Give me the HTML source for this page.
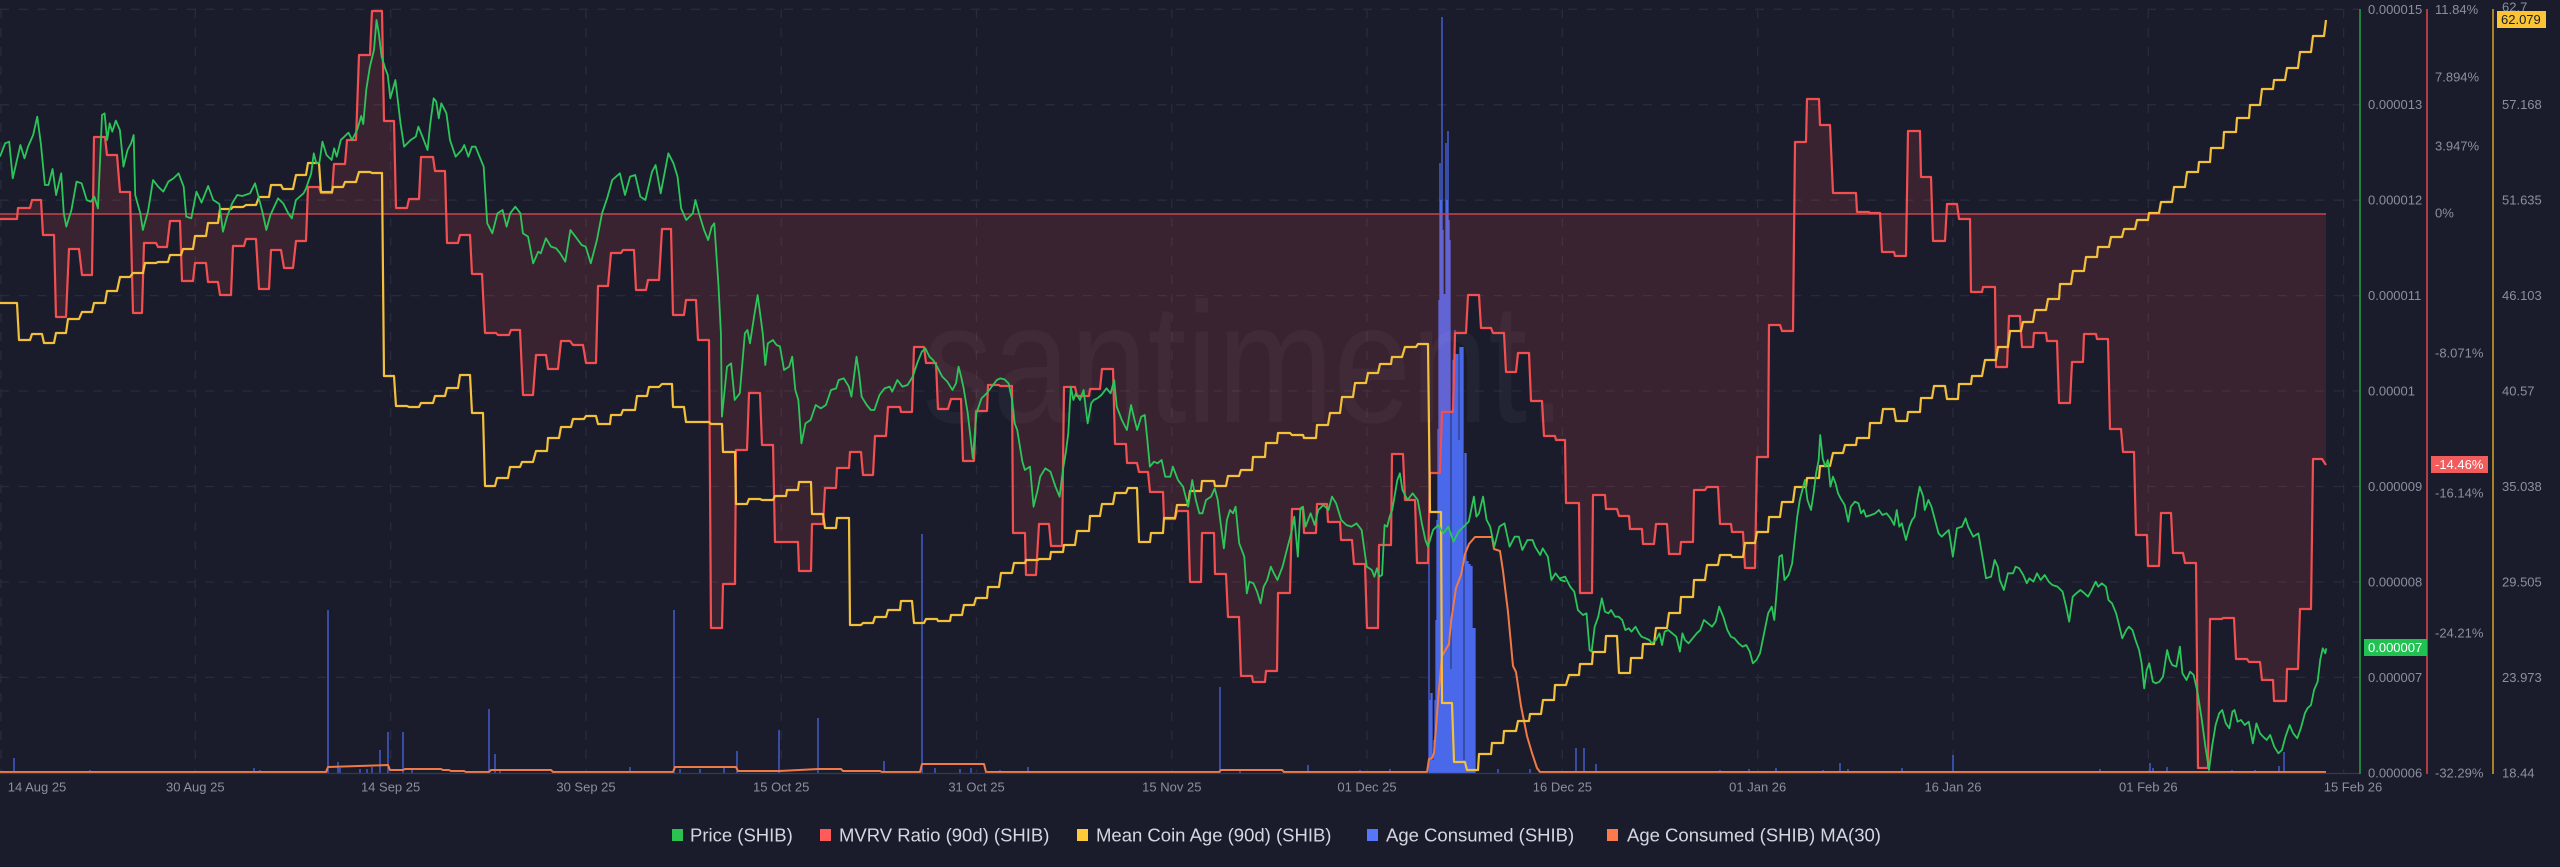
<!DOCTYPE html>
<html><head><meta charset="utf-8"><style>
html,body{margin:0;padding:0;background:#1a1c2c;}
body{width:2560px;height:867px;overflow:hidden;}
svg{display:block;font-family:"Liberation Sans",sans-serif;}
</style></head><body>
<svg width="2560" height="867" viewBox="0 0 2560 867" xmlns="http://www.w3.org/2000/svg">
<rect x="0" y="0" width="2560" height="867" fill="#1a1c2c"/>
<!-- grid -->
<g stroke="#272b3c" stroke-width="1.3" stroke-dasharray="9 9.67" fill="none">
<line x1="0" y1="9.3" x2="2360" y2="9.3"/>
<line x1="0" y1="104.7" x2="2360" y2="104.7"/>
<line x1="0" y1="200.2" x2="2360" y2="200.2"/>
<line x1="0" y1="295.6" x2="2360" y2="295.6"/>
<line x1="0" y1="391" x2="2360" y2="391"/>
<line x1="0" y1="486.5" x2="2360" y2="486.5"/>
<line x1="0" y1="582" x2="2360" y2="582"/>
<line x1="0" y1="677.4" x2="2360" y2="677.4"/>
</g>
<g stroke="#272b3c" stroke-width="1.3" stroke-dasharray="9 10" fill="none">
<line x1="1" y1="9" x2="1" y2="773"/>
<line x1="195.3" y1="9" x2="195.3" y2="773"/>
<line x1="390.6" y1="9" x2="390.6" y2="773"/>
<line x1="586" y1="9" x2="586" y2="773"/>
<line x1="781.2" y1="9" x2="781.2" y2="773"/>
<line x1="976.5" y1="9" x2="976.5" y2="773"/>
<line x1="1171.8" y1="9" x2="1171.8" y2="773"/>
<line x1="1367" y1="9" x2="1367" y2="773"/>
<line x1="1562.4" y1="9" x2="1562.4" y2="773"/>
<line x1="1757.7" y1="9" x2="1757.7" y2="773"/>
<line x1="1953" y1="9" x2="1953" y2="773"/>
<line x1="2148.3" y1="9" x2="2148.3" y2="773"/>
<line x1="2343.6" y1="9" x2="2343.6" y2="773"/>
</g>
<!-- Age consumed bars -->
<g stroke="#4d6cf2" stroke-width="1.2">
<line x1="14" y1="773" x2="14" y2="758"/><line x1="90" y1="773" x2="90" y2="770"/><line x1="254" y1="773" x2="254" y2="768"/><line x1="260" y1="773" x2="260" y2="770"/>
<line x1="328" y1="773" x2="328" y2="610"/><line x1="338" y1="773" x2="338" y2="762"/><line x1="367" y1="773" x2="367" y2="769"/><line x1="380" y1="773" x2="380" y2="750"/>
<line x1="388" y1="773" x2="388" y2="732"/><line x1="403" y1="773" x2="403" y2="732"/><line x1="489" y1="773" x2="489" y2="709"/><line x1="495" y1="773" x2="495" y2="754"/>
<line x1="630" y1="773" x2="630" y2="767"/><line x1="674" y1="773" x2="674" y2="610"/><line x1="724" y1="773" x2="724" y2="768"/><line x1="737" y1="773" x2="737" y2="751"/>
<line x1="779" y1="773" x2="779" y2="730"/><line x1="818" y1="773" x2="818" y2="718"/><line x1="884" y1="773" x2="884" y2="761"/><line x1="922" y1="773" x2="922" y2="534"/>
<line x1="935" y1="773" x2="935" y2="768"/><line x1="971" y1="773" x2="971" y2="768"/><line x1="1028" y1="773" x2="1028" y2="767"/><line x1="1220" y1="773" x2="1220" y2="687"/>
<line x1="1308" y1="773" x2="1308" y2="765"/><line x1="1390" y1="773" x2="1390" y2="769"/><line x1="1576" y1="773" x2="1576" y2="748"/><line x1="1584" y1="773" x2="1584" y2="748"/>
<line x1="1596" y1="773" x2="1596" y2="764"/><line x1="1720" y1="773" x2="1720" y2="770"/><line x1="1749" y1="773" x2="1749" y2="769"/><line x1="1776" y1="773" x2="1776" y2="768"/>
<line x1="1823" y1="773" x2="1823" y2="770"/><line x1="1840" y1="773" x2="1840" y2="763"/><line x1="1848" y1="773" x2="1848" y2="769"/><line x1="1902" y1="773" x2="1902" y2="768"/>
<line x1="1953" y1="773" x2="1953" y2="755"/><line x1="2029" y1="773" x2="2029" y2="771"/><line x1="2100" y1="773" x2="2100" y2="769"/><line x1="2150" y1="773" x2="2150" y2="763"/>
<line x1="2153" y1="773" x2="2153" y2="768"/><line x1="2167" y1="773" x2="2167" y2="767"/><line x1="2232" y1="773" x2="2232" y2="770"/><line x1="2255" y1="773" x2="2255" y2="770"/>
<line x1="2279" y1="773" x2="2279" y2="766"/><line x1="2284" y1="773" x2="2284" y2="752"/>
<line x1="340" y1="773" x2="340" y2="768"/><line x1="360" y1="773" x2="360" y2="769"/><line x1="372" y1="773" x2="372" y2="767"/><line x1="412" y1="773" x2="412" y2="769"/>
<line x1="500" y1="773" x2="500" y2="769"/><line x1="680" y1="773" x2="680" y2="769"/><line x1="700" y1="773" x2="700" y2="769"/><line x1="960" y1="773" x2="960" y2="769"/>
<line x1="1000" y1="773" x2="1000" y2="770"/><line x1="1240" y1="773" x2="1240" y2="769"/><line x1="1360" y1="773" x2="1360" y2="770"/>
<line x1="1498" y1="773" x2="1498" y2="769"/><line x1="1530" y1="773" x2="1530" y2="769"/>
</g>
<!-- cluster -->
<g stroke="#4a68ea" stroke-width="1.3">
<line x1="1429" y1="773" x2="1429" y2="453"/><line x1="1430" y1="773" x2="1430" y2="700"/><line x1="1431" y1="773" x2="1431" y2="693"/><line x1="1432" y1="773" x2="1432" y2="693"/>
<line x1="1433" y1="773" x2="1433" y2="760"/><line x1="1434" y1="773" x2="1434" y2="740"/><line x1="1435" y1="773" x2="1435" y2="700"/><line x1="1436" y1="773" x2="1436" y2="620"/>
<line x1="1437" y1="773" x2="1437" y2="520"/><line x1="1438" y1="773" x2="1438" y2="429"/><line x1="1439" y1="773" x2="1439" y2="300"/><line x1="1440" y1="773" x2="1440" y2="163"/>
<line x1="1441" y1="773" x2="1441" y2="200"/><line x1="1442" y1="773" x2="1442" y2="17"/><line x1="1443" y1="773" x2="1443" y2="230"/><line x1="1444" y1="773" x2="1444" y2="294"/>
<line x1="1445" y1="773" x2="1445" y2="294"/><line x1="1446" y1="773" x2="1446" y2="143"/><line x1="1447" y1="773" x2="1447" y2="200"/><line x1="1448" y1="773" x2="1448" y2="131"/>
<line x1="1449" y1="773" x2="1449" y2="220"/><line x1="1450" y1="773" x2="1450" y2="240"/><line x1="1451" y1="773" x2="1451" y2="669"/><line x1="1452" y1="773" x2="1452" y2="410"/>
<line x1="1453" y1="773" x2="1453" y2="360"/><line x1="1454" y1="773" x2="1454" y2="362"/><line x1="1455" y1="773" x2="1455" y2="330"/><line x1="1456" y1="773" x2="1456" y2="354"/>
<line x1="1457" y1="773" x2="1457" y2="354"/><line x1="1458" y1="773" x2="1458" y2="354"/><line x1="1459" y1="773" x2="1459" y2="440"/><line x1="1460" y1="773" x2="1460" y2="347"/>
<line x1="1461" y1="773" x2="1461" y2="347"/><line x1="1462" y1="773" x2="1462" y2="347"/><line x1="1463" y1="773" x2="1463" y2="347"/><line x1="1464" y1="773" x2="1464" y2="760"/>
<line x1="1465" y1="773" x2="1465" y2="453"/><line x1="1466" y1="773" x2="1466" y2="453"/><line x1="1467" y1="773" x2="1467" y2="561"/><line x1="1468" y1="773" x2="1468" y2="561"/>
<line x1="1469" y1="773" x2="1469" y2="564"/><line x1="1470" y1="773" x2="1470" y2="564"/><line x1="1471" y1="773" x2="1471" y2="566"/><line x1="1472" y1="773" x2="1472" y2="566"/>
<line x1="1473" y1="773" x2="1473" y2="628"/><line x1="1474" y1="773" x2="1474" y2="628"/><line x1="1475" y1="773" x2="1475" y2="628"/>
</g>
<!-- MVRV fill -->
<polygon fill="rgba(240,80,80,0.15)" points="0,214 0,219 17,219 18,208 30,208 32,200 41,200 43,235 54,235 56,317 66,317 69,249 79,249 82,275 92,275 94,137 105,137 107,155 117,155 120,192 130,192 133,313 142,313 144,243 156,243 158,247 167,247 170,221 180,221 182,281 193,281 195,263 206,263 208,282 218,282 220,295 231,295 233,246 244,246 246,239 256,239 259,289 269,289 271,250 281,250 284,268 293,268 296,241 306,241 308,187 319,187 321,193 332,193 334,164 345,164 347,140 356,140 359,55 370,55 372,11 382,11 384,121 394,121 396,208 407,208 409,199 419,199 421,157 433,157 435,171 445,171 447,243 458,243 460,235 470,235 472,274 482,274 485,333 496,333 498,335 509,335 511,330 520,330 523,395 533,395 536,355 546,355 548,369 558,369 561,341 570,341 573,345 583,345 586,363 596,363 598,286 608,286 611,253 621,253 623,250 634,250 636,290 646,290 648,280 659,280 662,229 671,229 673,315 684,315 686,300 696,300 698,340 709,340 711,628 722,628 723,584 735,584 736,450 747,450 749,393 760,393 762,445 773,445 775,542 798,542 799,571 811,571 812,524 823,524 825,488 836,488 837,468 849,468 850,452 861,452 863,475 873,475 875,436 886,436 888,407 900,407 901,412 912,412 914,347 924,347 926,363 936,363 938,409 948,409 951,399 961,399 963,461 974,461 976,411 987,411 988,385 999,385 1000,386 1012,386 1013,533 1025,533 1026,575 1036,575 1039,524 1049,524 1051,546 1062,546 1064,387 1075,387 1077,396 1089,396 1090,389 1100,389 1102,369 1113,369 1115,444 1126,444 1127,463 1137,463 1139,472 1148,472 1150,492 1163,492 1164,519 1175,519 1177,511 1188,511 1190,582 1201,582 1202,533 1214,533 1215,574 1226,574 1228,617 1239,617 1241,676 1252,676 1253,682 1265,682 1266,671 1277,671 1278,593 1290,593 1292,509 1303,509 1304,533 1316,533 1317,504 1327,504 1328,522 1340,522 1341,540 1352,540 1354,564 1365,564 1367,628 1378,628 1379,545 1391,545 1392,454 1403,454 1405,500 1415,500 1417,563 1428,563 1430,473 1440,473 1442,412 1453,412 1455,333 1466,333 1468,295 1479,295 1481,328 1491,328 1493,333 1504,333 1506,372 1516,372 1518,353 1529,353 1531,401 1542,401 1544,436 1555,436 1556,440 1565,440 1566,503 1579,503 1580,593 1592,593 1593,495 1605,495 1606,509 1617,509 1619,516 1629,516 1630,529 1642,529 1643,544 1654,544 1656,524 1667,524 1669,554 1680,554 1681,542 1693,542 1694,490 1705,490 1707,487 1718,487 1720,524 1731,524 1732,532 1743,532 1745,568 1755,568 1757,457 1768,457 1769,325 1780,325 1782,331 1793,331 1795,142 1806,142 1807,99 1819,99 1820,125 1830,125 1833,193 1856,193 1857,212 1869,212 1870,213 1880,213 1882,252 1894,252 1895,256 1906,256 1908,131 1920,131 1921,177 1931,177 1933,241 1945,241 1947,204 1957,204 1959,219 1970,219 1971,292 1982,292 1983,287 1995,287 1996,367 2007,367 2009,316 2020,316 2022,347 2033,347 2034,333 2046,333 2047,341 2057,341 2059,403 2070,403 2072,362 2083,362 2084,334 2096,334 2097,339 2108,339 2110,429 2121,429 2123,452 2134,452 2136,535 2147,535 2148,566 2159,566 2161,513 2171,513 2173,553 2183,553 2185,563 2196,563 2198,768 2208,768 2210,619 2222,619 2223,618 2234,618 2236,659 2247,659 2249,662 2260,662 2262,680 2273,680 2274,701 2286,701 2287,669 2298,669 2300,609 2311,609 2313,459 2322,459 2326,465 2326,214"/>
<!-- watermark -->
<text transform="translate(923,422) scale(0.815,1)" font-size="171" fill="rgba(255,255,255,0.035)">santiment.</text>
<!-- zero line -->
<line x1="0" y1="214" x2="2326" y2="214" stroke="#c4464f" stroke-width="1.4"/>
<!-- MA30 -->
<polyline fill="none" stroke="#f07a45" stroke-width="2" stroke-linejoin="round" points="0,772 326,772 328,767 388,765 390,770 403,770 405,769 441,769 443,770 449,770 451,771 464,771 466,772 489,772 491,770 551,770 553,772 673,772 675,767 736,767 738,771 780,771 818,769 841,769 843,771 880,771 882,772 920,772 922,764 984,764 986,772 1219,772 1221,770 1282,770 1284,772 1427,772 1429,759 1432,758 1434,753 1439,689 1442,656 1449,644 1451,622 1456,588 1461,575 1465,554 1469,544 1475,537 1492,537 1494,549 1500,551 1503,571 1508,612 1513,666 1516,672 1521,706 1527,736 1532,753 1537,768 1540,772 2326,772"/>
<!-- MVRV line -->
<polyline fill="none" stroke="#f24f50" stroke-width="2.2" stroke-linejoin="round" points="0,219 17,219 18,208 30,208 32,200 41,200 43,235 54,235 56,317 66,317 69,249 79,249 82,275 92,275 94,137 105,137 107,155 117,155 120,192 130,192 133,313 142,313 144,243 156,243 158,247 167,247 170,221 180,221 182,281 193,281 195,263 206,263 208,282 218,282 220,295 231,295 233,246 244,246 246,239 256,239 259,289 269,289 271,250 281,250 284,268 293,268 296,241 306,241 308,187 319,187 321,193 332,193 334,164 345,164 347,140 356,140 359,55 370,55 372,11 382,11 384,121 394,121 396,208 407,208 409,199 419,199 421,157 433,157 435,171 445,171 447,243 458,243 460,235 470,235 472,274 482,274 485,333 496,333 498,335 509,335 511,330 520,330 523,395 533,395 536,355 546,355 548,369 558,369 561,341 570,341 573,345 583,345 586,363 596,363 598,286 608,286 611,253 621,253 623,250 634,250 636,290 646,290 648,280 659,280 662,229 671,229 673,315 684,315 686,300 696,300 698,340 709,340 711,628 722,628 723,584 735,584 736,450 747,450 749,393 760,393 762,445 773,445 775,542 798,542 799,571 811,571 812,524 823,524 825,488 836,488 837,468 849,468 850,452 861,452 863,475 873,475 875,436 886,436 888,407 900,407 901,412 912,412 914,347 924,347 926,363 936,363 938,409 948,409 951,399 961,399 963,461 974,461 976,411 987,411 988,385 999,385 1000,386 1012,386 1013,533 1025,533 1026,575 1036,575 1039,524 1049,524 1051,546 1062,546 1064,387 1075,387 1077,396 1089,396 1090,389 1100,389 1102,369 1113,369 1115,444 1126,444 1127,463 1137,463 1139,472 1148,472 1150,492 1163,492 1164,519 1175,519 1177,511 1188,511 1190,582 1201,582 1202,533 1214,533 1215,574 1226,574 1228,617 1239,617 1241,676 1252,676 1253,682 1265,682 1266,671 1277,671 1278,593 1290,593 1292,509 1303,509 1304,533 1316,533 1317,504 1327,504 1328,522 1340,522 1341,540 1352,540 1354,564 1365,564 1367,628 1378,628 1379,545 1391,545 1392,454 1403,454 1405,500 1415,500 1417,563 1428,563 1430,473 1440,473 1442,412 1453,412 1455,333 1466,333 1468,295 1479,295 1481,328 1491,328 1493,333 1504,333 1506,372 1516,372 1518,353 1529,353 1531,401 1542,401 1544,436 1555,436 1556,440 1565,440 1566,503 1579,503 1580,593 1592,593 1593,495 1605,495 1606,509 1617,509 1619,516 1629,516 1630,529 1642,529 1643,544 1654,544 1656,524 1667,524 1669,554 1680,554 1681,542 1693,542 1694,490 1705,490 1707,487 1718,487 1720,524 1731,524 1732,532 1743,532 1745,568 1755,568 1757,457 1768,457 1769,325 1780,325 1782,331 1793,331 1795,142 1806,142 1807,99 1819,99 1820,125 1830,125 1833,193 1856,193 1857,212 1869,212 1870,213 1880,213 1882,252 1894,252 1895,256 1906,256 1908,131 1920,131 1921,177 1931,177 1933,241 1945,241 1947,204 1957,204 1959,219 1970,219 1971,292 1982,292 1983,287 1995,287 1996,367 2007,367 2009,316 2020,316 2022,347 2033,347 2034,333 2046,333 2047,341 2057,341 2059,403 2070,403 2072,362 2083,362 2084,334 2096,334 2097,339 2108,339 2110,429 2121,429 2123,452 2134,452 2136,535 2147,535 2148,566 2159,566 2161,513 2171,513 2173,553 2183,553 2185,563 2196,563 2198,768 2208,768 2210,619 2222,619 2223,618 2234,618 2236,659 2247,659 2249,662 2260,662 2262,680 2273,680 2274,701 2286,701 2287,669 2298,669 2300,609 2311,609 2313,459 2322,459 2326,465"/>
<!-- Mean coin age -->
<polyline fill="none" stroke="#f3c03a" stroke-width="2.2" stroke-linejoin="round" points="0,303 17,303 19,340 30,340 32,334 42,334 44,343 54,343 56,333 66,333 68,319 79,319 82,312 92,312 94,303 105,303 107,291 117,291 120,277 130,277 133,273 143,273 145,263 156,263 158,262 168,262 170,255 181,255 183,249 193,249 195,236 206,236 208,223 218,223 220,209 231,209 233,207 243,207 246,205 256,205 259,197 269,197 271,185 281,185 283,189 293,189 296,175 306,175 308,163 319,163 321,192 332,192 333,187 343,187 345,182 356,182 359,172 370,172 372,173 382,173 384,376 394,376 396,406 407,406 409,407 419,407 421,403 433,403 435,396 445,396 447,388 458,388 460,375 470,375 472,413 483,413 485,486 495,486 497,478 508,478 510,467 520,467 522,462 533,462 536,451 547,451 548,438 559,438 561,427 571,427 573,419 584,419 586,416 596,416 598,424 610,424 611,415 621,415 623,410 635,410 637,396 647,396 649,387 659,387 662,384 672,384 673,407 684,407 686,422 709,422 711,424 722,424 723,452 735,452 736,504 747,504 749,499 760,499 762,500 773,500 775,496 786,496 787,490 798,490 799,482 811,482 812,514 823,514 825,528 836,528 837,518 849,518 850,625 861,625 863,623 873,623 875,617 886,617 888,610 900,610 901,601 912,601 914,623 924,623 926,619 937,619 938,621 950,621 951,615 962,615 964,605 974,605 976,598 987,598 988,587 999,587 1001,573 1012,573 1014,563 1025,563 1026,560 1038,560 1039,559 1050,559 1051,552 1063,552 1064,545 1075,545 1077,531 1089,531 1090,516 1100,516 1102,504 1113,504 1115,493 1126,493 1128,488 1137,488 1139,542 1150,542 1151,533 1163,533 1164,518 1175,518 1177,505 1188,505 1190,491 1201,491 1202,481 1214,481 1215,486 1226,486 1228,476 1239,476 1241,470 1252,470 1253,457 1265,457 1266,443 1277,443 1278,433 1290,433 1292,435 1303,435 1304,438 1316,438 1317,425 1328,425 1330,413 1340,413 1342,397 1353,397 1355,383 1366,383 1368,373 1378,373 1380,364 1391,364 1392,357 1402,357 1405,347 1416,347 1418,344 1428,344 1430,512 1441,512 1442,703 1452,703 1454,762 1465,762 1467,770 1478,770 1479,754 1491,754 1492,743 1503,743 1504,731 1516,731 1518,721 1529,721 1530,714 1541,714 1543,700 1554,700 1555,685 1566,685 1569,675 1579,675 1580,664 1592,664 1593,652 1605,652 1606,636 1617,636 1619,673 1630,673 1631,658 1642,658 1643,644 1654,644 1656,628 1667,628 1669,613 1680,613 1681,597 1693,597 1694,580 1705,580 1707,565 1718,565 1720,555 1731,555 1732,557 1743,557 1745,543 1755,543 1757,532 1768,532 1769,517 1780,517 1782,502 1793,502 1795,487 1806,487 1807,478 1819,478 1820,466 1830,466 1833,453 1843,453 1845,445 1856,445 1857,438 1869,438 1870,423 1881,423 1883,409 1894,409 1896,421 1907,421 1908,412 1920,412 1921,398 1932,398 1934,386 1945,386 1947,399 1958,399 1959,384 1971,384 1972,376 1982,376 1985,360 1996,360 1998,347 2008,347 2010,331 2021,331 2023,322 2033,322 2035,310 2046,310 2048,299 2059,299 2060,284 2071,284 2073,271 2084,271 2086,257 2097,257 2098,247 2109,247 2111,237 2122,237 2124,229 2135,229 2137,220 2148,220 2149,213 2159,213 2161,202 2172,202 2174,187 2185,187 2187,172 2198,172 2199,162 2210,162 2211,148 2223,148 2224,132 2236,132 2237,118 2249,118 2250,105 2260,105 2262,89 2273,89 2274,80 2285,80 2287,68 2298,68 2300,52 2311,52 2313,36 2324,36 2326,20"/>
<!-- Price -->
<g fill="none" stroke="#2cc55a" stroke-width="1.8" stroke-linejoin="round">
<polyline vector-effect="non-scaling-stroke" transform="scale(0.5102,0.33333)" points="0,470 10,430 18,425 25,535 40,435 48,475 55,440 65,405 73,350 80,430 88,555 95,555 103,507 110,585 120,520 125,640 130,680 140,630 150,545 160,550 170,600 178,605 185,590 192,625 200,345 205,340 210,420 215,370 220,395 227,362 235,390 242,500 250,450 257,430 262,405 265,585 275,640 280,690 290,635 300,540 310,560 320,575 330,545 340,535 350,520 360,560 365,650 375,655 385,575 395,608 408,558 418,600 430,612 437,695 445,650 455,610 465,585 475,588 490,580 500,550 505,580 515,640 522,690 530,645 545,595 555,610 565,640 572,655 580,600 595,580 600,565 610,520 615,460 620,490 626,488 632,425 640,465 650,480 655,445 660,470 668,420 675,410 683,398 690,420 700,390 708,348 712,372 718,268 725,200 733,150 738,60 742,95 748,170 755,205 760,225 765,295 775,240 785,370 792,440 805,420 815,410 820,380 828,410 838,450 843,375 850,295 855,305 860,355 865,310 875,340 882,420 893,470 905,450 910,435 918,470 925,440 932,440 940,470 948,500 955,670 965,700 975,640 985,630 993,680 1000,640 1010,620 1020,640 1025,700 1035,710 1045,790 1055,755 1060,760 1070,715 1080,740 1090,745 1098,760 1108,785 1118,690 1128,710 1140,735 1148,740 1158,790 1170,720 1180,640 1190,595 1200,540 1215,520 1225,585 1235,530 1245,525 1255,590 1265,600 1278,515 1285,495 1295,580 1310,460 1320,490 1328,530 1335,625 1345,660 1358,640 1363,600 1370,640 1380,690 1388,720 1395,680 1400,670 1408,850 1413,1000 1415,1250 1425,1100 1433,1090 1440,1200 1450,1180 1460,1000 1465,990 1470,1030 1478,950 1485,885 1495,1000 1500,1095 1505,1030 1515,1020 1522,1035 1530,1040"/>
<polyline vector-effect="non-scaling-stroke" transform="translate(780,400) scale(0.5102,0.33333)" points="0,-160 8,-90 18,-100 24,-130 30,-30 36,0 42,130 50,70 60,60 70,15 80,25 90,15 100,-30 110,-35 115,-60 125,-65 135,-40 140,-10 150,-130 155,-80 160,-10 170,15 178,30 185,30 195,-15 205,-35 215,-40 220,-25 230,-60 240,-40 250,-45 260,-70 270,-115 278,-145 285,-155 293,-130 300,-120 308,-100 318,-70 328,-55 338,-30 345,-50 350,-100 355,-70 360,-35 368,40 374,120 378,175 385,40 395,-5 405,-20 415,-40 425,-60 432,-65 440,-62 448,-50 455,0 460,70 465,90 475,185 480,210 490,200 497,320 505,270 510,230 520,205 530,215 540,260 548,290 555,205 560,160 565,100 570,-40 575,0 580,-20 588,0 595,-30 603,70 610,10 615,0 622,-5 630,-15 640,-35 648,-20 655,-60 660,20 670,60 680,90 688,15 695,60 700,90 708,50 715,45 720,120 725,200 733,185 740,190 748,180 755,230 765,230 770,200 780,240 790,260 795,290 800,320 808,240 815,300 822,340 828,340 835,300 845,290 852,265 858,300 862,350 870,445 876,360 882,330 888,340 893,320 900,430 910,470 915,580 920,545 928,550 935,575 942,610 948,560 955,540 962,500 968,520 975,540 985,500 995,440 1002,400 1008,350 1015,470 1020,325 1025,320 1030,380 1035,360 1040,340 1048,375 1055,330 1065,315 1075,330 1082,290 1090,310 1100,360 1110,375 1120,380 1130,370 1140,390 1150,500 1160,510 1165,530 1170,505 1175,530 1180,525 1185,375 1190,380 1195,350 1200,330 1210,240 1215,220 1220,270 1230,300 1240,280 1250,300 1258,370 1265,420 1270,440 1280,390 1290,375 1300,400 1310,380 1320,425 1330,395 1340,380 1350,365 1360,290 1365,350 1370,340 1378,290 1385,360 1392,380 1400,440 1410,380 1420,370 1430,440 1440,410 1448,410 1455,450 1465,420 1475,420 1480,440 1490,465 1495,445 1505,470 1512,540 1520,520 1530,540 1540,545"/>
<polyline vector-effect="non-scaling-stroke" transform="translate(1560,400) scale(0.5102,0.33333)" points="0,535 10,530 20,560 28,575 35,630 45,645 52,640 58,750 62,755 68,680 75,650 82,595 88,635 95,640 100,630 108,650 115,650 122,660 128,690 135,685 140,695 148,680 155,700 160,710 168,715 175,720 180,730 188,720 195,700 200,735 205,695 212,690 220,700 228,710 235,755 240,700 245,720 252,730 260,715 268,700 275,690 282,660 290,670 298,680 305,665 312,620 320,650 328,690 335,710 342,715 350,730 358,740 365,735 372,755 378,790 385,780 392,760 400,700 408,640 415,620 420,660 425,570 430,470 435,465 440,540 448,525 455,490 460,420 465,350 470,300 475,270 480,240 485,300 492,330 497,280 502,220 507,180 510,105 515,175 520,200 525,180 530,260 535,230 540,250 545,280 550,295 558,315 565,365 570,320 578,305 585,310 590,340 595,330 600,350 610,345 618,340 625,330 632,345 640,340 648,355 655,375 660,330 665,380 670,370 678,420 685,380 690,360 695,350 700,300 705,260 712,290 715,330 722,300 728,320 735,360 742,400 748,410 755,400 762,390 770,470 778,385 788,380 795,355 800,380 810,410 820,400 828,470 835,535 845,530 852,480 858,500 862,540 870,570 878,520 888,520 893,500 900,505 908,525 915,550 920,535 928,545 935,520 942,540 950,525 958,545 965,555 975,560 985,575 992,620 998,665 1005,590 1012,580 1020,570 1028,580 1035,590 1042,570 1050,545 1055,560 1062,550 1070,560 1075,600 1082,610 1090,640 1095,670 1102,715 1110,690 1115,680 1122,690 1128,720 1135,750 1140,790 1145,865 1150,810 1155,790 1162,845 1168,850 1175,845 1182,830 1190,750 1195,780 1200,795 1208,800 1215,740 1220,820 1228,840 1235,815 1242,825 1250,880 1258,960 1265,1040 1272,1110 1278,1040 1285,975 1292,940 1298,930 1305,970 1312,985 1318,935 1322,930 1328,965 1335,960 1342,975 1350,965 1358,1030 1365,970 1372,1000 1378,1010 1385,1020 1392,1005 1400,1040 1408,1060 1415,1050 1422,1010 1430,975 1437,1000 1445,1015 1452,985 1460,940 1465,925 1472,915 1478,870 1485,845 1490,780 1495,745 1500,760 1502,745"/>
</g>
<!-- x axis line -->
<line x1="0" y1="773.5" x2="2360" y2="773.5" stroke="#343848" stroke-width="1.2"/>
<!-- right axis lines -->
<line x1="2360" y1="9" x2="2360" y2="774" stroke="#22a345" stroke-width="1.5"/>
<line x1="2427" y1="9" x2="2427" y2="774" stroke="#e3474c" stroke-width="1.5"/>
<line x1="2493" y1="9" x2="2493" y2="774" stroke="#d8a427" stroke-width="1.5"/>
<!-- axis labels -->
<g font-size="13" fill="#8a8f9f" dominant-baseline="central">
<text x="2368" y="9.3">0.000015</text>
<text x="2368" y="104.7">0.000013</text>
<text x="2368" y="200.2">0.000012</text>
<text x="2368" y="295.6">0.000011</text>
<text x="2368" y="391">0.00001</text>
<text x="2368" y="486.5">0.000009</text>
<text x="2368" y="582">0.000008</text>
<text x="2368" y="677.4">0.000007</text>
<text x="2368" y="773">0.000006</text>
<text x="2435" y="9.3">11.84%</text>
<text x="2435" y="77">7.894%</text>
<text x="2435" y="146">3.947%</text>
<text x="2435" y="213">0%</text>
<text x="2435" y="353">-8.071%</text>
<text x="2435" y="493">-16.14%</text>
<text x="2435" y="633">-24.21%</text>
<text x="2435" y="773">-32.29%</text>
<text x="2502" y="7">62.7</text>
<text x="2502" y="104.7">57.168</text>
<text x="2502" y="200.2">51.635</text>
<text x="2502" y="295.6">46.103</text>
<text x="2502" y="391">40.57</text>
<text x="2502" y="486.5">35.038</text>
<text x="2502" y="582">29.505</text>
<text x="2502" y="677.4">23.973</text>
<text x="2502" y="773">18.44</text>
</g>
<!-- tags -->
<rect x="2364" y="639" width="63" height="17" fill="#21c152"/>
<text x="2368" y="647.5" font-size="13" fill="#ffffff" dominant-baseline="central">0.000007</text>
<rect x="2431" y="456" width="57" height="17" fill="#f25c5c"/>
<text x="2435" y="464.5" font-size="13" fill="#ffffff" dominant-baseline="central">-14.46%</text>
<rect x="2497" y="11" width="49" height="17" fill="#fac434"/>
<text x="2501" y="19.5" font-size="13" fill="#1b1d2b" dominant-baseline="central">62.079</text>
<!-- date labels -->
<g font-size="13" fill="#8a8f9f" dominant-baseline="central" text-anchor="middle">
<text x="37" y="787">14 Aug 25</text>
<text x="195.3" y="787">30 Aug 25</text>
<text x="390.6" y="787">14 Sep 25</text>
<text x="586" y="787">30 Sep 25</text>
<text x="781.2" y="787">15 Oct 25</text>
<text x="976.5" y="787">31 Oct 25</text>
<text x="1171.8" y="787">15 Nov 25</text>
<text x="1367" y="787">01 Dec 25</text>
<text x="1562.4" y="787">16 Dec 25</text>
<text x="1757.7" y="787">01 Jan 26</text>
<text x="1953" y="787">16 Jan 26</text>
<text x="2148.3" y="787">01 Feb 26</text>
<text x="2353" y="787">15 Feb 26</text>
</g>
<!-- legend -->
<rect x="672" y="829" width="11" height="12" fill="#2bc24f"/>
<rect x="820" y="829" width="11" height="12" fill="#ff5b5b"/>
<rect x="1077" y="829" width="11" height="12" fill="#ffca37"/>
<rect x="1367" y="829" width="11" height="12" fill="#5677fa"/>
<rect x="1607" y="829" width="11" height="12" fill="#ff7a4a"/>
<g font-size="18.5" fill="#d4d7df" dominant-baseline="central">
<text x="690" y="835">Price (SHIB)</text>
<text x="839" y="835">MVRV Ratio (90d) (SHIB)</text>
<text x="1096" y="835">Mean Coin Age (90d) (SHIB)</text>
<text x="1386" y="835">Age Consumed (SHIB)</text>
<text x="1627" y="835">Age Consumed (SHIB) MA(30)</text>
</g>
</svg>
</body></html>
